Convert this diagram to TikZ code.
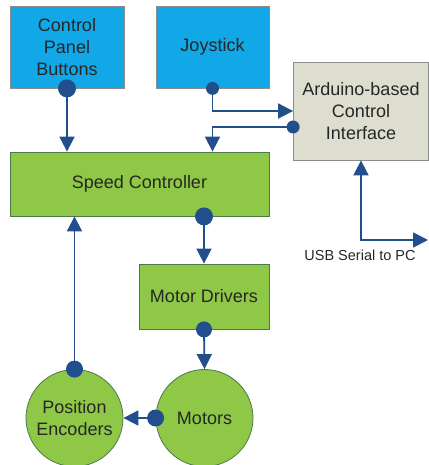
\documentclass[tikz,border=0pt]{standalone}
\usepackage{fontspec}
\setmainfont{Liberation Sans}
\usetikzlibrary{arrows.meta}
\definecolor{boxblue}{RGB}{18,168,232}
\definecolor{boxgreen}{RGB}{142,200,70}
\definecolor{boxgray}{RGB}{222,222,208}
\definecolor{linkblue}{RGB}{34,78,140}
\tikzset{
  blk/.style={draw=black!45, line width=0.8pt, align=center, font=\fontsize{18}{22}\selectfont, text=black!85},
  bluebox/.style={blk, fill=boxblue, minimum width=114pt, minimum height=82pt},
  greenbox/.style={blk, fill=boxgreen, draw=green!25!black!70},
  roundbox/.style={greenbox, circle, minimum size=97pt, inner sep=0pt},
  conn/.style={draw=linkblue, line width=1.8pt, -{Triangle[length=15pt,width=15pt]}},
  pin/.style={fill=linkblue}
}
\begin{document}
\begin{tikzpicture}[x=1pt,y=-1pt]
				\useasboundingbox (0,0) rectangle (428,465);
				\node[bluebox] (cpb) at (67,47) {Control\\Panel\\Buttons};
				\node[bluebox, minimum width=113pt] (joy) at (212.5,47) {Joystick};
				\node[blk, fill=boxgray, minimum width=135pt, minimum height=98pt] (ard) at (361,111) {Arduino-based\\Control\\Interface};
				\node[greenbox, minimum width=259pt, minimum height=64pt] (spd) at (139.5,184) {Speed Controller};
				\node[greenbox, minimum width=130pt, minimum height=65pt] (drv) at (204,296.5) {Motor Drivers};
				\node[roundbox] (mot) at (204.5,418) {Motors};
				\node[roundbox] (enc) at (74.5,418) {Position\\Encoders};
				\coordinate (ardout) at ([yshift=-16pt]ard.west);
				\coordinate (usb) at (428,240);
				\node[font=\fontsize{14.5}{17}\selectfont, text=black!85] (usbtxt) at (360,255) {USB Serial to PC};
				\draw[conn] (cpb.south) -- (spd.north -| cpb.south);
				\draw[conn] (joy.south) |- (ard.west);
				\draw[conn] (ardout) -| (spd.north -| joy.south);
				\draw[conn] (spd.south -| drv.north) -- (drv.north);
				\draw[conn] (drv.south) -- (mot.north);
				\draw[conn] (mot.west) -- (enc.east);
				\draw[conn] (enc.north) -- (spd.south -| enc.north);
				\draw[conn, {Triangle[length=15pt,width=15pt]}-{Triangle[length=15pt,width=15pt]}] (ard.south) |- (usb);
				\fill[pin] (cpb.south) circle (9);
				\fill[pin] (joy.south) circle (6.5);
				\fill[pin] (ardout) circle (6.5);
				\fill[pin] (spd.south -| drv.north) circle (9);
				\fill[pin] (drv.south) circle (8);
				\fill[pin] (mot.west) circle (8.5);
				\fill[pin] (enc.north) circle (8.5);
			\end{tikzpicture}
\end{document}
